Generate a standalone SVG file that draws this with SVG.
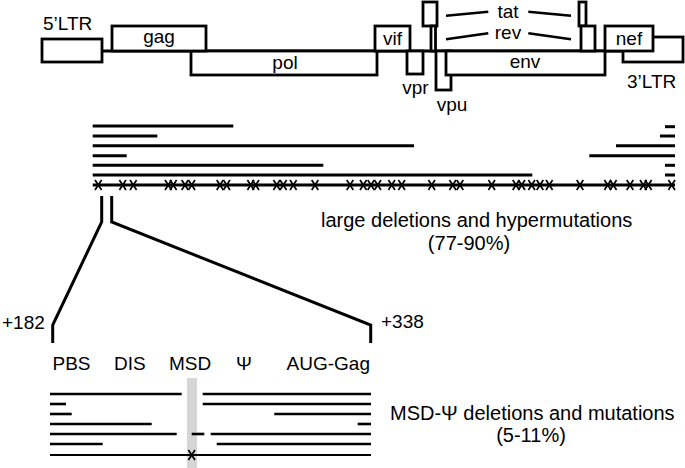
<svg xmlns="http://www.w3.org/2000/svg" width="685" height="468" viewBox="0 0 685 468">
<style>
.box{fill:#fff;stroke:#000;stroke-width:2.8}
.ln{stroke:#000;stroke-width:3;fill:none}
.ln2{stroke:#000;stroke-width:2.6;fill:none}
.thin{stroke:#000;stroke-width:2;fill:none}
.t{font-family:"Liberation Sans",Arial,sans-serif;font-size:19px;fill:#000}
.tb{font-family:"Liberation Sans",Arial,sans-serif;font-size:20px;fill:#000}
.m{text-anchor:middle}
</style>
<defs>
<path id="x" d="M-3.3,-5 L3.3,5 M3.3,-5 L-3.3,5" stroke="#000" stroke-width="1.7" fill="none"/>
</defs>
<rect width="685" height="468" fill="#fff"/>

<g id="genome">
<line class="ln" x1="102" y1="51" x2="623" y2="51" stroke-width="2.8"/>
<g id="ltr5"><rect class="box" x="42" y="39" width="60" height="23"/><text class="t" x="43" y="30">5’LTR</text></g>
<g id="pol"><rect class="box" x="191" y="51" width="186" height="24"/><text class="t m" x="285" y="69">pol</text></g>
<g id="gag"><rect class="box" x="112" y="26" width="94" height="25"/><text class="t m" x="159" y="43">gag</text></g>
<g id="vif"><rect class="box" x="375" y="26" width="35" height="25"/><text class="t m" x="392.5" y="45">vif</text></g>
<g id="vpr"><rect class="box" x="407" y="51" width="16" height="23"/><text class="t m" x="415.5" y="94">vpr</text></g>
<g id="tat1"><rect class="box" x="423" y="2" width="14" height="24"/></g>
<g id="rev1"><rect class="box" x="431" y="26" width="4.5" height="25"/></g>
<g id="vpu"><rect class="box" x="436" y="51" width="15" height="39"/><text class="t m" x="452" y="111">vpu</text></g>
<g id="env"><rect class="box" x="446" y="51" width="159" height="24"/><text class="t m" x="525" y="68">env</text></g>
<g id="tat2"><rect class="box" x="579" y="2" width="7" height="24"/></g>
<g id="rev2"><rect class="box" x="581" y="26" width="14" height="25"/></g>
<g id="ltr3"><rect class="box" x="623" y="37" width="60" height="25"/><text class="t" x="627" y="88">3’LTR</text></g>
<g id="nef"><rect class="box" x="605" y="26" width="48" height="25"/><text class="t m" x="629" y="45">nef</text></g>
<g id="tat"><text class="t m" x="508" y="18">tat</text></g>
<g id="rev"><text class="t m" x="508" y="39">rev</text></g>
</g>

<g id="connectors">
<line class="ln2" x1="446" y1="15.7" x2="488.3" y2="11.7"/>
<line class="ln2" x1="528.3" y1="11.7" x2="571" y2="15.7"/>
<line class="ln2" x1="446" y1="39.3" x2="488.3" y2="33.3"/>
<line class="ln2" x1="528.3" y1="33.3" x2="571" y2="39.3"/>
<polyline class="ln" points="101.7,196 101.7,222 52.7,325 52.7,343"/>
<polyline class="ln" points="111.7,196 111.7,222 370.7,325 370.7,343"/>
</g>

<g id="large-deletions">
<line class="ln" x1="92.7" y1="126" x2="233.3" y2="126"/>
<line class="ln" x1="92.7" y1="136" x2="157.3" y2="136"/>
<line class="ln" x1="92.7" y1="145.7" x2="414" y2="145.7"/>
<line class="ln" x1="92.7" y1="155.7" x2="126.7" y2="155.7"/>
<line class="ln" x1="92.7" y1="165.3" x2="323.3" y2="165.3"/>
<line class="ln" x1="92.7" y1="175" x2="532.3" y2="175"/>
<line class="ln" x1="92.7" y1="185" x2="675" y2="185"/>
<line class="ln" x1="665" y1="126.7" x2="675" y2="126.7"/>
<line class="ln" x1="660" y1="136" x2="675" y2="136"/>
<line class="ln" x1="616" y1="145.7" x2="675" y2="145.7"/>
<line class="ln" x1="589.3" y1="155.7" x2="675" y2="155.7"/>
<line class="ln" x1="665" y1="165.3" x2="675" y2="165.3"/>
<line class="ln" x1="665" y1="175" x2="675" y2="175"/>
<g id="hypermutations">
<use href="#x" x="98.3" y="185"/><use href="#x" x="122.7" y="185"/><use href="#x" x="133.3" y="185"/>
<use href="#x" x="168.3" y="185"/><use href="#x" x="173.3" y="185"/><use href="#x" x="185" y="185"/>
<use href="#x" x="191.7" y="185"/><use href="#x" x="220" y="185"/><use href="#x" x="226.7" y="185"/>
<use href="#x" x="250.7" y="185"/><use href="#x" x="255.7" y="185"/><use href="#x" x="276.7" y="185"/>
<use href="#x" x="283.3" y="185"/><use href="#x" x="293.3" y="185"/><use href="#x" x="315" y="185"/>
<use href="#x" x="350" y="185"/><use href="#x" x="363.3" y="185"/><use href="#x" x="371" y="185"/>
<use href="#x" x="377.7" y="185"/><use href="#x" x="391.7" y="185"/><use href="#x" x="401.7" y="185"/>
<use href="#x" x="431.7" y="185"/><use href="#x" x="452.7" y="185"/><use href="#x" x="460" y="185"/>
<use href="#x" x="491.7" y="185"/><use href="#x" x="516" y="185"/><use href="#x" x="521.7" y="185"/>
<use href="#x" x="531.7" y="185"/><use href="#x" x="540" y="185"/><use href="#x" x="549.3" y="185"/>
<use href="#x" x="580" y="185"/><use href="#x" x="607.7" y="185"/><use href="#x" x="613.3" y="185"/>
<use href="#x" x="630" y="185"/><use href="#x" x="643.3" y="185"/><use href="#x" x="648.3" y="185"/>
<use href="#x" x="671.7" y="185"/>
</g>
<text class="tb" x="321" y="227">large deletions and hypermutations</text>
<text class="tb m" x="469" y="250">(77-90%)</text>
</g>

<g id="zoom-region">
<text class="t" x="2" y="329">+182</text>
<text class="t" x="381" y="328">+338</text>
<text class="t" x="52.5" y="370">PBS</text>
<text class="t" x="114" y="370">DIS</text>
<text class="t" x="169" y="370">MSD</text>
<text class="t m" x="244" y="370">Ψ</text>
<text class="t" x="370" y="370" text-anchor="end">AUG-Gag</text>
<rect x="187" y="378" width="10" height="90" fill="#d6d6d6"/>
<line class="ln2" x1="50" y1="394" x2="181.7" y2="394"/>
<line class="ln2" x1="202.7" y1="394" x2="371" y2="394"/>
<line class="ln2" x1="50" y1="404" x2="66" y2="404"/>
<line class="ln2" x1="202.7" y1="404" x2="371" y2="404"/>
<line class="ln2" x1="50" y1="414" x2="71.7" y2="414"/>
<line class="ln2" x1="274.3" y1="414" x2="371" y2="414"/>
<line class="ln2" x1="50" y1="424" x2="151.7" y2="424"/>
<line class="ln2" x1="357.7" y1="424" x2="371" y2="424"/>
<line class="ln2" x1="50" y1="434" x2="176.7" y2="434"/>
<line class="ln2" x1="191.7" y1="434" x2="204.3" y2="434"/>
<line class="ln2" x1="210.7" y1="434" x2="371" y2="434"/>
<line class="ln2" x1="50" y1="444" x2="102.7" y2="444"/>
<line class="ln2" x1="216.7" y1="444" x2="371" y2="444"/>
<line class="thin" x1="50" y1="455" x2="371" y2="455"/>
<use href="#x" x="191.7" y="455"/>
<text class="tb" x="390" y="420">MSD-Ψ deletions and mutations</text>
<text class="tb m" x="531" y="442">(5-11%)</text>
</g>
</svg>
